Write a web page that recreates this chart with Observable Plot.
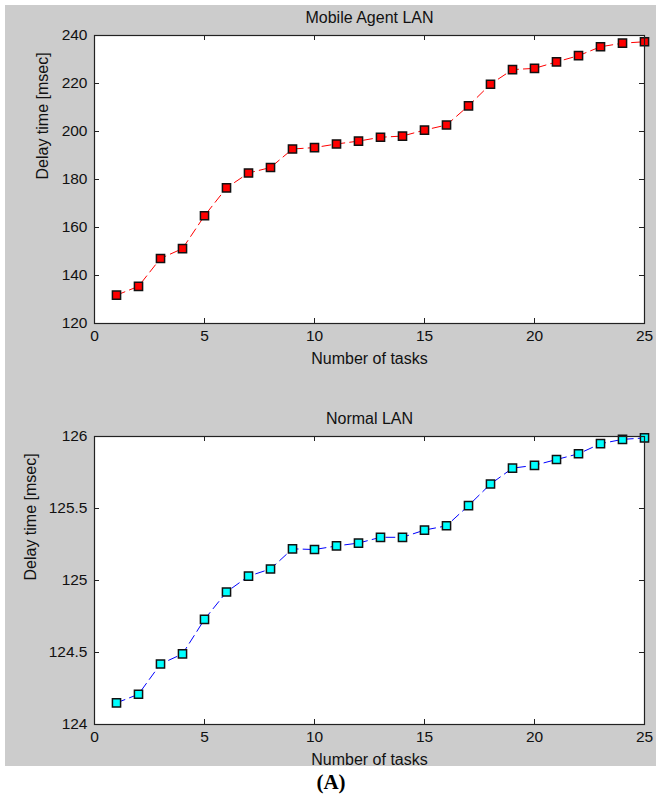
<!DOCTYPE html>
<html>
<head>
<meta charset="utf-8">
<script src="https://cdn.jsdelivr.net/npm/d3@7"></script>
<script src="https://cdn.jsdelivr.net/npm/@observablehq/plot@0.6"></script>
<style>
  body { margin: 0; background: #ffffff; }
  #fig { position: absolute; left: 5px; top: 5px; width: 651px; height: 761px; background: #cccccc; }
  #fig svg { display: block; overflow: visible; }
  #caption { position: absolute; left: 0; top: 766px; width: 662px; text-align: center;
             font: bold 21px "Liberation Serif", "Times New Roman", serif; color: #000; line-height: 32px; }
</style>
</head>
<body>
<div id="fig"></div>
<div id="caption">(A)</div>
<script>
const tasks = [1,2,3,4,5,6,7,8,9,10,11,12,13,14,15,16,17,18,19,20,21,22,23,24,25];
const mobileDelay = [131.8,135.5,147.1,151.2,164.9,176.5,182.7,185.0,192.7,193.3,194.8,196.0,197.6,
                     198.1,200.6,202.7,210.7,219.7,225.8,226.3,229.0,231.6,235.3,236.8,237.4];
const normalDelay = [124.15,124.21,124.42,124.49,124.73,124.92,125.03,125.08,125.22,125.215,125.24,125.26,125.30,
                     125.30,125.35,125.38,125.52,125.67,125.78,125.80,125.84,125.88,125.95,125.98,125.99];
const xTicks = [0,5,10,15,20,25];
const mobileTicks = [120,140,160,180,200,220,240];
const normalTicks = [124,124.5,125,125.5,126];
const titles = ["Mobile Agent LAN", "Normal LAN"];
const xLabel = "Number of tasks";
const yLabel = "Delay time [msec]";

function panel(title, values, yTicks, color, fill, height, mTop, mBottom, yLabelDx) {
  const W = 651, mL = 89, mR = 12;
  const fw = W - mL - mR, fh = height - mTop - mBottom;
  const data = tasks.map((t, i) => ({t, v: values[i]}));
  const ydom = [yTicks[0], yTicks[yTicks.length - 1]];
  return Plot.plot({
    width: W, height,
    marginLeft: mL, marginRight: mR, marginTop: mTop, marginBottom: mBottom,
    style: { background: "transparent", fontFamily: "'Liberation Sans', Arial, sans-serif", fontSize: "15px", color: "#111", overflow: "visible" },
    x: { domain: [0, 25] },
    y: { domain: ydom },
    marks: [
      Plot.frame({ fill: "white" }),
      Plot.ruleX(xTicks, { x: d => d, insetTop: fh - 5, stroke: "#222" }),
      Plot.ruleX(xTicks, { x: d => d, insetBottom: fh - 5, stroke: "#222" }),
      Plot.ruleY(yTicks, { y: d => d, insetRight: fw - 5, stroke: "#222" }),
      Plot.ruleY(yTicks, { y: d => d, insetLeft: fw - 5, stroke: "#222" }),
      Plot.axisX({ ticks: xTicks, tickSize: 0, tickPadding: 6, label: null, fontSize: 15.5, tickFormat: d => String(d) }),
      Plot.axisY({ ticks: yTicks, tickSize: 0, tickPadding: 7, label: null, fontSize: 15.5, tickFormat: d => String(d) }),
      Plot.line(data, { x: "t", y: "v", stroke: color, strokeWidth: 1, strokeDasharray: "9,5" }),
      Plot.dot(data, { x: "t", y: "v", symbol: "square", r: 4.6, fill, stroke: "#111", strokeWidth: 1.5 }),
      Plot.frame({ stroke: "#222", strokeWidth: 1.2 }),
      Plot.text([title], { frameAnchor: "top", dy: -18, fontSize: 16, lineAnchor: "middle", fill: "#111" }),
      Plot.text([xLabel], { frameAnchor: "bottom", dy: 35, fontSize: 16, lineAnchor: "middle", fill: "#111" }),
      Plot.text([yLabel], { frameAnchor: "left", dx: yLabelDx, rotate: -90, fontSize: 16, lineAnchor: "middle", fill: "#111" })
    ]
  });
}

const fig = document.getElementById("fig");
fig.appendChild(panel(titles[0], mobileDelay, mobileTicks, "#ff0000", "#ff0000", 380, 30, 62, -52));
fig.appendChild(panel(titles[1], normalDelay, normalTicks, "#0000ff", "#00ffff", 381, 51, 42, -64));
</script>
</body>
</html>
